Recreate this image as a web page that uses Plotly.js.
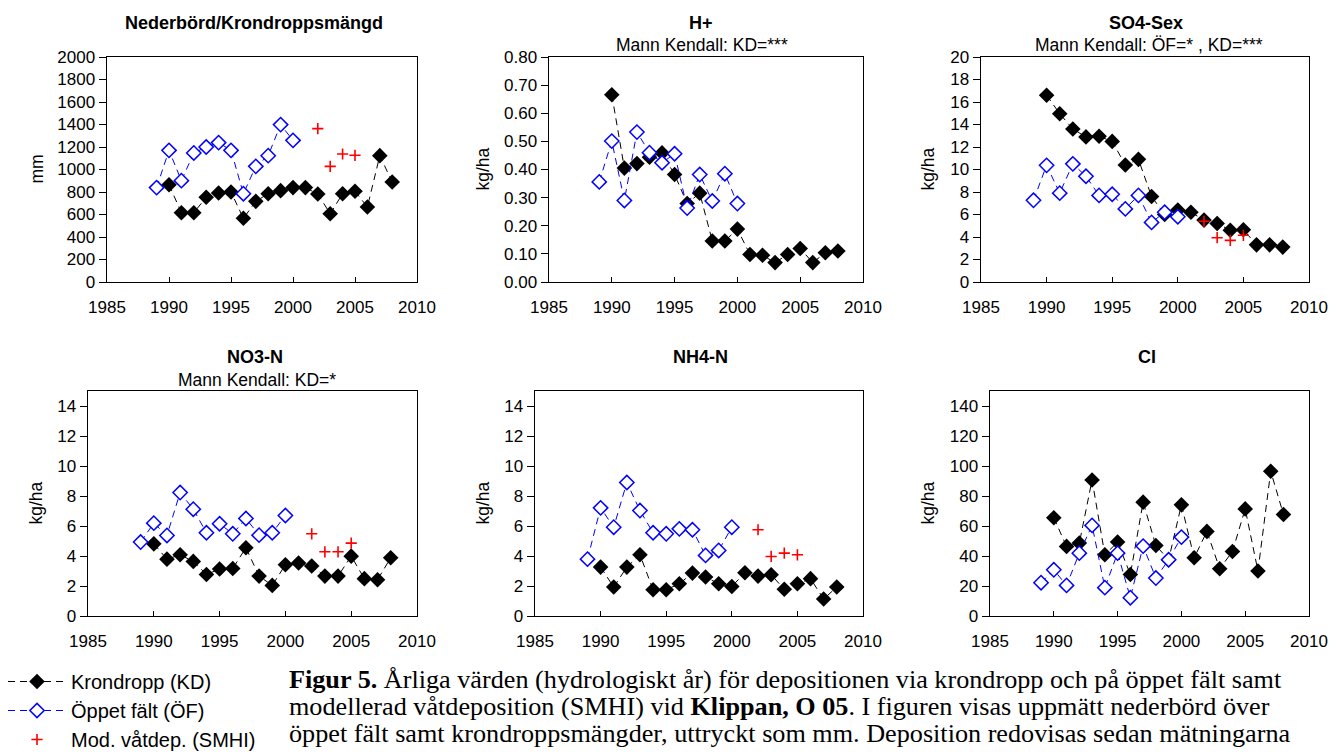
<!DOCTYPE html>
<html>
<head>
<meta charset="utf-8">
<script src="https://cdn.plot.ly/plotly-3.0.1.min.js"></script>
<style>
  html, body { margin: 0; padding: 0; background: #ffffff; }
  #chart { width: 1344px; height: 752px; }
</style>
</head>
<body>
<div id="chart"></div>
<script>
// ---------- Data ----------
const yearsKD   = [1990, 1991, 1992, 1993, 1994, 1995, 1996, 1997, 1998, 1999, 2000, 2001, 2002, 2003, 2004, 2005, 2006, 2007, 2008];
const yearsOF   = [1989, 1990, 1991, 1992, 1993, 1994, 1995, 1996, 1997, 1998, 1999, 2000];
const yearsSMHI = [2002, 2003, 2004, 2005];

const precipKD   = [865, 616, 616, 753, 791, 800, 566, 717, 785, 812, 839, 839, 782, 607, 785, 806, 667, 1123, 889];
const precipOF   = [839, 1170, 901, 1147, 1200, 1239, 1170, 785, 1028, 1123, 1399, 1259];
const precipSMHI = [1363, 1028, 1138, 1126];

const hKD   = [0.666, 0.405, 0.421, 0.444, 0.459, 0.382, 0.279, 0.316, 0.146, 0.146, 0.188, 0.098, 0.095, 0.069, 0.098, 0.119, 0.069, 0.104, 0.110];
const hOF   = [0.356, 0.501, 0.290, 0.533, 0.460, 0.424, 0.456, 0.263, 0.382, 0.288, 0.385, 0.279];
const hSMHI = [];

const so4KD   = [16.6, 14.96, 13.6, 12.9, 12.95, 12.5, 10.4, 10.9, 7.6, 6.0, 6.4, 6.2, 5.5, 5.2, 4.6, 4.65, 3.3, 3.3, 3.1];
const so4OF   = [7.26, 10.37, 7.9, 10.5, 9.4, 7.7, 7.8, 6.5, 7.7, 5.3, 6.2, 5.8];
const so4SMHI = [5.4, 3.94, 3.7, 4.15];

const no3KD   = [4.81, 3.79, 4.08, 3.64, 2.77, 3.13, 3.17, 4.55, 2.66, 2.04, 3.42, 3.53, 3.33, 2.66, 2.66, 3.99, 2.49, 2.42, 3.88];
const no3OF   = [4.93, 6.19, 5.37, 8.23, 7.12, 5.55, 6.15, 5.48, 6.5, 5.39, 5.55, 6.7];
const no3SMHI = [5.48, 4.28, 4.28, 4.86];

const nh4KD   = [3.26, 1.93, 3.26, 4.08, 1.75, 1.75, 2.15, 2.86, 2.6, 2.15, 1.97, 2.88, 2.66, 2.75, 1.78, 2.15, 2.49, 1.13, 1.93];
const nh4OF   = [3.79, 7.21, 5.92, 8.9, 7.03, 5.55, 5.48, 5.81, 5.75, 4.04, 4.37, 5.92];
const nh4SMHI = [5.75, 3.97, 4.19, 4.08];

const clKD   = [65.5, 46.4, 48.6, 90.7, 40.8, 49.3, 27.7, 75.9, 47.0, 37.5, 74.1, 38.8, 56.4, 31.5, 43.0, 71.4, 30.0, 96.5, 67.7];
const clOF   = [22.2, 30.8, 20.4, 41.9, 60.4, 18.9, 41.9, 12.2, 46.6, 25.3, 37.5, 52.6];
const clSMHI = [];

const panelTitles    = ["Nederbörd/Krondroppsmängd", "H+", "SO4-Sex", "NO3-N", "NH4-N", "Cl"];
const panelSubtitles = ["", "Mann Kendall: KD=***", "Mann Kendall: ÖF=* , KD=***", "Mann Kendall: KD=*", "", ""];
const yTitles        = ["mm", "kg/ha", "kg/ha", "kg/ha", "kg/ha", "kg/ha"];
const seriesNames    = ["Krondropp (KD)", "Öppet fält (ÖF)", "Mod. våtdep. (SMHI)"];
const xTickVals      = [1985, 1990, 1995, 2000, 2005, 2010];

const captionLines = [
  "<b>Figur 5.</b> Årliga värden (hydrologiskt år) för depositionen via krondropp och på öppet fält samt",
  "modellerad våtdeposition (SMHI) vid <b>Klippan, O 05</b>. I figuren visas uppmätt nederbörd över",
  "öppet fält samt krondroppsmängder, uttryckt som mm. Deposition redovisas sedan mätningarna"
];

// ---------- Layout geometry (pixels) ----------
const W = 1344, H = 752;
const panels = [
  {kd: precipKD, of: precipOF, smhi: precipSMHI, box: [107, 417, 57, 282],  yr: [0, 2000], dt: 200, fmt: "",    ytx: 36,  tx: 254, ty: 23,  sx: 0,    sy: 0},
  {kd: hKD,      of: hOF,      smhi: hSMHI,      box: [549, 863, 57, 282],  yr: [0, 0.8],  dt: 0.1, fmt: ".2f", ytx: 482, tx: 701, ty: 23,  sx: 702,  sy: 45},
  {kd: so4KD,    of: so4OF,    smhi: so4SMHI,    box: [981, 1309, 57, 282], yr: [0, 20],   dt: 2,   fmt: "",    ytx: 927, tx: 1146, ty: 23, sx: 1149, sy: 45},
  {kd: no3KD,    of: no3OF,    smhi: no3SMHI,    box: [88, 417, 391, 616],  yr: [0, 15],   dt: 2,   fmt: "",    ytx: 35,  tx: 255, ty: 357, sx: 257,  sy: 380},
  {kd: nh4KD,    of: nh4OF,    smhi: nh4SMHI,    box: [535, 863, 391, 616], yr: [0, 15],   dt: 2,   fmt: "",    ytx: 482, tx: 700, ty: 357, sx: 0,    sy: 0},
  {kd: clKD,     of: clOF,     smhi: clSMHI,     box: [990, 1309, 391, 616],yr: [0, 150],  dt: 20,  fmt: "",    ytx: 927, tx: 1147, ty: 357, sx: 0,   sy: 0}
];

const FONT = "Liberation Sans, Arial, sans-serif";
const traces = [];
const layout = {
  width: W, height: H,
  margin: {l: 0, r: 0, t: 0, b: 0, pad: 0, autoexpand: false},
  paper_bgcolor: "#ffffff", plot_bgcolor: "#ffffff",
  font: {family: FONT, color: "#000000", size: 17},
  showlegend: true,
  legend: {
    x: 3 / W, xanchor: "left", y: 1 - 662 / H, yanchor: "top",
    font: {family: FONT, size: 20, color: "#000000"},
    bgcolor: "rgba(0,0,0,0)", borderwidth: 0, itemwidth: 58, tracegroupgap: 0,
    itemclick: false, itemdoubleclick: false
  },
  annotations: [],
  shapes: []
};

panels.forEach((p, i) => {
  const n = i + 1;
  const xa = "x" + (n === 1 ? "" : n), ya = "y" + (n === 1 ? "" : n);
  const xk = "xaxis" + (n === 1 ? "" : n), yk = "yaxis" + (n === 1 ? "" : n);
  const [L, R, T, B] = p.box;

  layout[xk] = {
    domain: [L / W, R / W], anchor: ya,
    range: [1985, 2010], tickvals: xTickVals, ticktext: xTickVals.map(String),
    ticks: "inside", ticklen: 5, tickwidth: 1, tickcolor: "#000",
    ticklabelstandoff: 9, automargin: false,
    showline: true, mirror: true, linecolor: "#000", linewidth: 1.4,
    showgrid: false, zeroline: false, fixedrange: true,
    tickfont: {family: FONT, size: 17, color: "#000"}
  };
  layout[yk] = {
    domain: [1 - B / H, 1 - T / H], anchor: xa,
    range: p.yr, dtick: p.dt, tick0: 0, tickformat: p.fmt,
    ticks: "outside", ticklen: 7, tickwidth: 1, tickcolor: "#000", automargin: false,
    showline: true, mirror: true, linecolor: "#000", linewidth: 1.4,
    showgrid: false, zeroline: false, fixedrange: true,
    tickfont: {family: FONT, size: 17, color: "#000"}
  };

  traces.push({
    type: "scatter", mode: "lines+markers", name: seriesNames[0], legendgroup: "kd",
    showlegend: i === 0, xaxis: xa, yaxis: ya,
    x: yearsKD, y: p.kd,
    line: {color: "#000000", width: 1, dash: "7px,5px"},
    marker: {symbol: "diamond", size: 12, color: "#000000", line: {width: 0}},
    cliponaxis: false, hoverinfo: "skip"
  });
  traces.push({
    type: "scatter", mode: "lines+markers", name: seriesNames[1], legendgroup: "of",
    showlegend: i === 0, xaxis: xa, yaxis: ya,
    x: yearsOF, y: p.of,
    line: {color: "#0000ff", width: 1, dash: "7px,5px"},
    marker: {symbol: "diamond", size: 11, color: "#ffffff", line: {color: "#0000ff", width: 1.5}},
    cliponaxis: false, hoverinfo: "skip"
  });
  traces.push({
    type: "scatter", mode: "markers", name: seriesNames[2], legendgroup: "smhi",
    showlegend: i === 0, xaxis: xa, yaxis: ya,
    x: p.smhi.length ? yearsSMHI : [], y: p.smhi,
    marker: {symbol: "cross-thin", size: 8, color: "#ff0000", line: {color: "#ff0000", width: 1.6}},
    cliponaxis: false, hoverinfo: "skip"
  });

  layout.annotations.push({
    xref: "paper", yref: "paper", x: p.tx / W, y: 1 - p.ty / H,
    xanchor: "center", yanchor: "middle", showarrow: false,
    text: "<b>" + panelTitles[i] + "</b>",
    font: {family: FONT, size: 18, color: "#000"}
  });
  if (panelSubtitles[i]) {
    layout.annotations.push({
      xref: "paper", yref: "paper", x: p.sx / W, y: 1 - p.sy / H,
      xanchor: "center", yanchor: "middle", showarrow: false,
      text: panelSubtitles[i],
      font: {family: FONT, size: 17.5, color: "#000"}
    });
  }
  layout.annotations.push({
    xref: "paper", yref: "paper", x: p.ytx / W, y: 1 - ((T + B) / 2) / H,
    xanchor: "center", yanchor: "middle", showarrow: false, textangle: -90,
    text: yTitles[i],
    font: {family: FONT, size: 17.5, color: "#000"}
  });
});

const captionY = [679, 706, 733];
captionLines.forEach((t, k) => {
  layout.annotations.push({
    xref: "paper", yref: "paper", x: 288 / W, y: 1 - captionY[k] / H,
    xanchor: "left", yanchor: "middle", showarrow: false, align: "left",
    borderpad: 0,
    text: t,
    font: {family: "Liberation Serif, Times New Roman, serif", size: 26.2, color: "#000"}
  });
});

Plotly.newPlot("chart", traces, layout, {displayModeBar: false, staticPlot: true});
</script>
</body>
</html>
